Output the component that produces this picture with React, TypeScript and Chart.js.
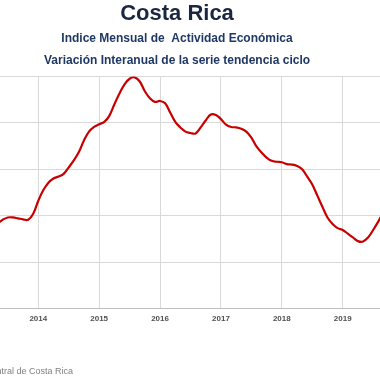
import React, { useEffect, useRef } from "react";
import { Chart, registerables } from "chart.js";

Chart.register(...registerables);

// First month of the series (April 2013), monthly observations
const startYear = 2013;
const startMonth = 4;

// Variación interanual (%) of the trend-cycle IMAE, monthly
const values = [
  1.81, 1.84, 1.91, 1.96, 1.96, 1.94, 1.92, 1.91, 2.04,
  2.32, 2.55, 2.71, 2.8, 2.84, 2.9, 3.04, 3.19, 3.37, 3.62, 3.81, 3.91,
  3.97, 4.02, 4.15, 4.4, 4.63, 4.83, 4.95, 4.98, 4.89, 4.68, 4.53, 4.45,
  4.47, 4.42, 4.22, 4.02, 3.9, 3.81, 3.78, 3.77, 3.9, 4.05, 4.18, 4.17,
  4.08, 3.96, 3.91, 3.9, 3.87, 3.81, 3.68, 3.49, 3.36, 3.25, 3.18, 3.16,
  3.15, 3.11, 3.1, 3.07, 3.0, 2.84, 2.67, 2.43, 2.19, 1.96, 1.82, 1.73,
  1.69, 1.61, 1.53, 1.45, 1.44, 1.53, 1.69, 1.87, 2.07, 2.26,
];

const yearTicks = ["2014", "2015", "2016", "2017", "2018", "2019"];

const titleText = "Costa Rica";
const subtitleLines = [
  "Indice Mensual de  Actividad Económica",
  "Variación Interanual de la serie tendencia ciclo",
];
const sourceText = "Fuente: Banco Central de Costa Rica";

// month index relative to January 2014
const monthIndex = values.map((_, i) => (startYear - 2014) * 12 + (startMonth - 1) + i);
const yearTickValues = yearTicks.map((y) => (Number(y) - 2014) * 12);

export default function App() {
  const ref = useRef<HTMLCanvasElement | null>(null);

  useEffect(() => {
    if (!ref.current) return;
    const chart = new Chart(ref.current, {
      type: "line",
      data: {
        datasets: [
          {
            data: values.map((v, i) => ({ x: monthIndex[i], y: v })),
            borderColor: "#c80000",
            borderWidth: 2.2,
            pointRadius: 0,
            tension: 0.4,
            fill: false,
          },
        ],
      },
      options: {
        animation: false,
        responsive: false,
        maintainAspectRatio: false,
        layout: { padding: { left: 0, right: 0, top: 0, bottom: 50 } },
        plugins: {
          legend: { display: false },
          tooltip: { enabled: false },
          title: {
            display: true,
            text: titleText,
            color: "#1b2640",
            font: { family: "'Liberation Sans', Arial, sans-serif", size: 22, weight: "bold", lineHeight: 1.2 },
            padding: { top: 1, bottom: 0 },
          },
          subtitle: {
            display: true,
            text: subtitleLines,
            color: "#203864",
            font: { family: "'Liberation Sans', Arial, sans-serif", size: 12, weight: "bold", lineHeight: 22 / 12 },
            padding: { top: 0, bottom: 5 },
          },
        },
        scales: {
          x: {
            type: "linear",
            min: -15.43,
            max: 70.11,
            afterBuildTicks: (scale: any) => {
              scale.ticks = yearTickValues.map((v) => ({ value: v }));
            },
            ticks: {
              callback: (v: any) => String(2014 + Math.round(Number(v) / 12)),
              color: "#505050",
              font: { family: "'Liberation Sans', Arial, sans-serif", size: 8, weight: "bold" },
              padding: 6,
              maxRotation: 0,
              autoSkip: false,
            },
            grid: { color: "#d9d9d9", lineWidth: 1, drawTicks: false },
            border: { display: true, color: "#bfbfbf", width: 1 },
          },
          y: {
            min: 0,
            max: 5,
            ticks: { display: false, stepSize: 1 },
            grid: { color: "#d9d9d9", lineWidth: 1, drawTicks: false },
            border: { display: false },
          },
        },
      },
    });
    return () => chart.destroy();
  }, []);

  return (
    <div
      style={{
        position: "fixed",
        left: 0,
        top: 0,
        width: 380,
        height: 380,
        overflow: "hidden",
        background: "#ffffff",
      }}
    >
      <div style={{ position: "absolute", left: -40, top: 0, width: 434, height: 380 }}>
        <canvas ref={ref} width={434} height={380} style={{ width: 434, height: 380, display: "block" }} />
      </div>
      <div
        style={{
          position: "absolute",
          right: 307,
          top: 365,
          whiteSpace: "nowrap",
          fontFamily: "'Liberation Sans', Arial, sans-serif",
          fontSize: 9,
          lineHeight: "12px",
          color: "#808080",
        }}
      >
        {sourceText}
      </div>
    </div>
  );
}
